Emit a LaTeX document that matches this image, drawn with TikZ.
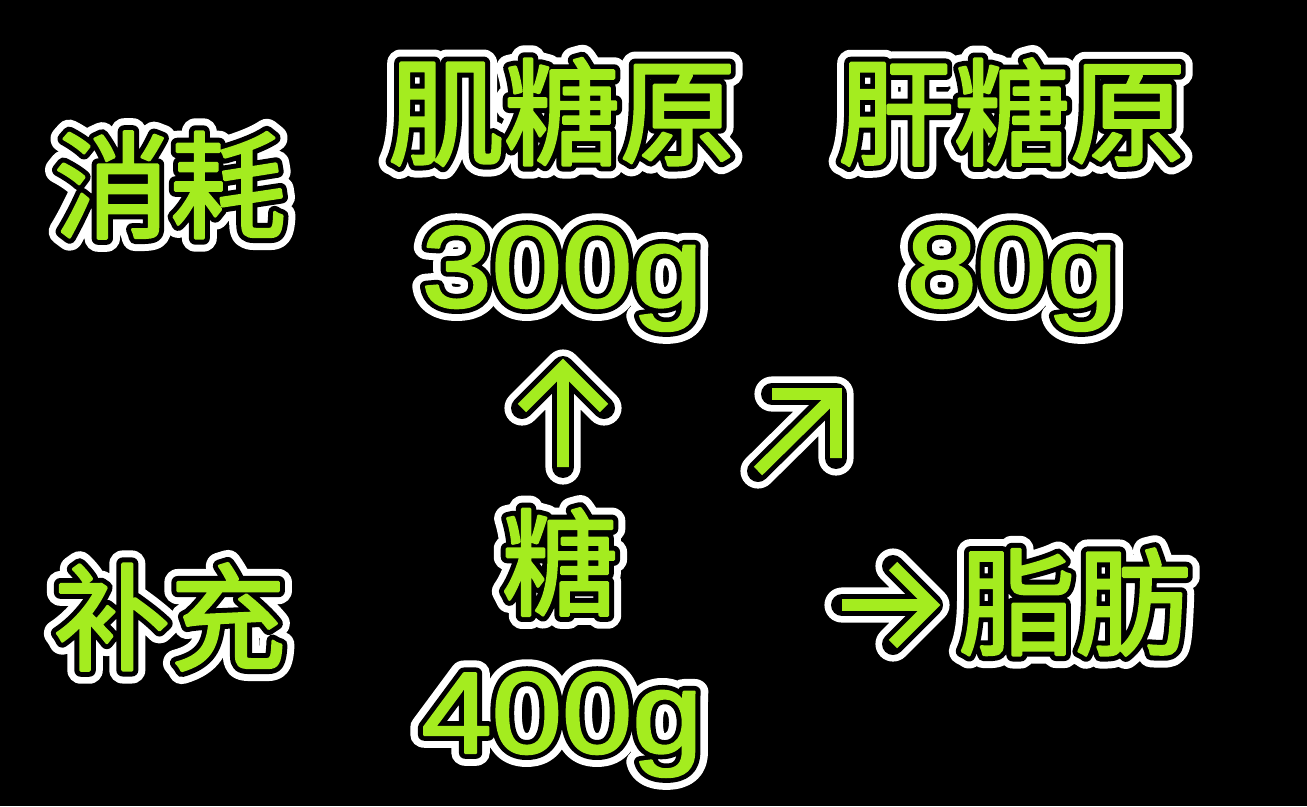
\documentclass[tikz,border=0pt]{standalone}
\usepackage{fontspec}
\newfontfamily\cjkg{Noto Sans CJK SC}[FakeBold=2.5]
\newfontfamily\cjkk{Noto Sans CJK SC}[FakeBold=11]
\newfontfamily\cjkw{Noto Sans CJK SC}[FakeBold=23]
\newfontfamily\numg{Liberation Sans}[FakeBold=2]
\newfontfamily\numk{Liberation Sans}[FakeBold=10]
\newfontfamily\numw{Liberation Sans}[FakeBold=22]
\definecolor{sugar}{HTML}{A4EC1F}

\tikzset{
  txt/.style={inner sep=0pt,line join=round,
    font=\fontsize{66pt}{66pt}\selectfont},
  num/.style={inner sep=0pt,line join=round,anchor=base,xscale=1.09,transform shape,
    font=\fontsize{66pt}{66pt}\selectfont},
  fatarrow/.style={draw=sugar,line width=6.8pt,line cap=butt,line join=miter,
    preaction={draw=black,line width=12.5pt,line cap=round,line join=round,
      preaction={draw=white,line width=20pt,line cap=round,line join=round}}}
}

% white rim, black rim, green face
\newcommand\glow[1]{\rlap{\color{white}\cjkw #1}%
  \rlap{\color{black}\cjkk #1}{\color{sugar}\cjkg #1}}
\newcommand\glownum[1]{\rlap{\color{white}\numw #1}%
  \rlap{\color{black}\numk #1}{\color{sugar}\numg #1}}

\begin{document}
\begin{tikzpicture}[x=0.02cm,y=-0.02cm,line join=round]
\useasboundingbox[fill=black] (0,0) rectangle (1307,806);

% left column
\node[txt] (xiaohao) at (170,185) {\glow{消耗}};
\node[txt] (buchong) at (170,617) {\glow{补充}};

% glycogen stores
\node[txt] (jitang) at (562,112) {\glow{肌糖原}};
\node[txt] (gantang) at (1012,112) {\glow{肝糖原}};
\node[num] (jiliang) at (562,307) {\glownum{300g}};
\node[num] (ganliang) at (1012,307) {\glownum{80g}};

% sugar intake
\node[txt] (tang) at (560,562) {\glow{糖}};
\node[num] (tangliang) at (562,753) {\glownum{400g}};
\node[txt] (zhifang) at (1075,602) {\glow{脂肪}};

% arrows
\coordinate (upS) at (563,467);
\coordinate (upT) at (563,367);
\coordinate (upL) at (522,408);
\coordinate (upR) at (604,408);
\draw[fatarrow] (upS) -- (upT) (upL) -- (upT) -- (upR);

\coordinate (neS) at (758,471);
\coordinate (neT) at (836,394);
\coordinate (neL) at (772,394);
\coordinate (neR) at (836,458);
\draw[fatarrow] (neS) -- (neT) (neL) -- (neT) -- (neR);

\coordinate (rtS) at (842,605);
\coordinate (rtT) at (932,605);
\coordinate (rtU) at (893,566);
\coordinate (rtD) at (893,644);
\draw[fatarrow] (rtS) -- (rtT) (rtU) -- (rtT) -- (rtD);

\end{tikzpicture}
\end{document}
